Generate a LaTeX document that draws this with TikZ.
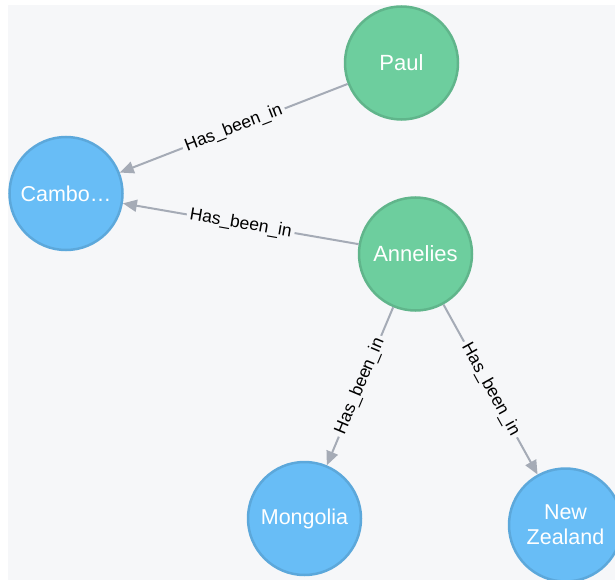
\documentclass[tikz,border=0pt]{standalone}
\usepackage{fontspec}
\setmainfont{Liberation Sans}
\usetikzlibrary{arrows.meta}
\definecolor{bgc}{HTML}{F6F7F9}
\definecolor{greenfill}{HTML}{6DCE9E}
\definecolor{greenline}{HTML}{60B58B}
\definecolor{bluefill}{HTML}{68BDF6}
\definecolor{blueline}{HTML}{5CA8DB}
\definecolor{edgec}{HTML}{A5ABB6}
\tikzset{
  person/.style={circle, fill=greenfill, draw=greenline, line width=2.5pt, minimum size=113pt, inner sep=0pt, text=white, font=\fontsize{22}{24}\selectfont, align=center},
  country/.style={circle, fill=bluefill, draw=blueline, line width=2.5pt, minimum size=113pt, inner sep=0pt, text=white, font=\fontsize{21.5}{25}\selectfont, align=center},
  rel/.style={draw=edgec, line width=2pt, -{Triangle[length=14pt,width=12pt]}},
  rellabel/.style={sloped, fill=bgc, inner sep=3pt, text=black, font=\fontsize{17.5}{19}\selectfont}
}
\begin{document}
\begin{tikzpicture}[x=1pt,y=-1pt]
\useasboundingbox (0,0) rectangle (615,580);
\fill[white] (0,0) rectangle (615,580);
\fill[bgc] (8,5) rectangle (615,580);
\begin{scope}
\clip (8,5) rectangle (615,580);
\node[person] (paul) at (401.5,63) {Paul};
\node[country] (cambo) at (66,193.5) {Cambo\ldots};
\node[person] (annelies) at (415.5,254) {Annelies};
\node[country] (mongolia) at (304.5,518.5) {Mongolia};
\node[country] (nz) at (565.5,525) {New\\Zealand};
\draw[rel] (paul) -- node[rellabel] {Has\_been\_in} (cambo);
\draw[rel] (annelies) -- node[rellabel] {Has\_been\_in} (cambo);
\draw[rel] (annelies) -- node[rellabel] {Has\_been\_in} (mongolia);
\draw[rel] (annelies) -- node[rellabel] {Has\_been\_in} (nz);
\end{scope}
\end{tikzpicture}
\end{document}
